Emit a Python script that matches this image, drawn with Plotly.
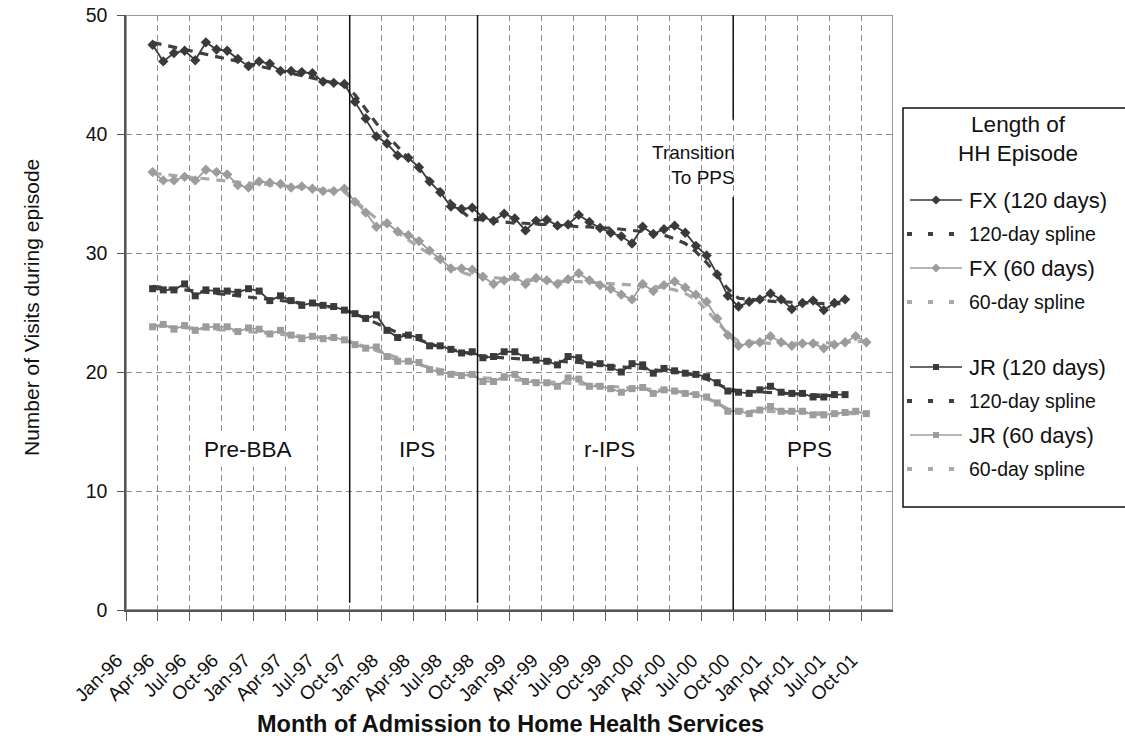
import plotly.graph_objects as go

W, H = 1125, 744

# ---------------- data ----------------
years = ["96", "97", "98", "99", "00", "01"]
mnames = ["Jan", "Feb", "Mar", "Apr", "May", "Jun", "Jul", "Aug", "Sep", "Oct", "Nov", "Dec"]
months = [f"{m}-{y}" for y in years for m in mnames]  # 72 monthly categories

tick_labels = ["Jan-96", "Apr-96", "Jul-96", "Oct-96", "Jan-97", "Apr-97", "Jul-97", "Oct-97",
               "Jan-98", "Apr-98", "Jul-98", "Oct-98", "Jan-99", "Apr-99", "Jul-99", "Oct-99",
               "Jan-00", "Apr-00", "Jul-00", "Oct-00", "Jan-01", "Apr-01", "Jul-01", "Oct-01"]

start_month = "Mar-96"

fx120 = [47.5, 46.1, 46.8, 47.0, 46.2, 47.7, 47.1, 47.0, 46.3, 45.7, 46.1, 45.9, 45.3, 45.3, 45.2, 45.1, 44.4, 44.3, 44.2,
         42.7, 41.3, 39.8, 39.2, 38.2, 38.0, 37.2, 36.0, 35.1, 33.9, 33.7, 33.8,
         33.0, 32.7, 33.3, 32.9, 31.9, 32.7, 32.8, 32.3, 32.4, 33.2, 32.6, 32.1, 31.7, 31.4, 30.8, 32.2, 31.6, 32.0, 32.3, 31.7, 30.6, 29.8, 28.2, 26.4,
         25.5, 25.9, 26.1, 26.6, 26.1, 25.3, 25.8, 26.0, 25.2, 25.8, 26.1]
fx120_spline = [47.7, 47.5, 47.3, 47.1, 46.9, 46.7, 46.5, 46.3, 46.1, 45.9, 45.7, 45.5, 45.3, 45.1, 44.9, 44.7, 44.5, 44.3, 44.1,
                43.3, 42.1, 40.9, 39.9, 38.9, 37.9, 37.0, 36.1, 35.2, 34.3, 33.5, 32.8,
                32.8, 32.7, 32.6, 32.5, 32.5, 32.4, 32.4, 32.3, 32.3, 32.2, 32.2, 32.1, 32.1, 32.0, 31.9, 31.8, 31.7, 31.5, 31.2, 30.8, 30.1, 29.2, 28.1, 27.0,
                26.2, 26.1, 26.0, 25.95, 25.9, 25.85, 25.8, 25.8, 25.75, 25.75, 25.75]

fx60 = [36.8, 36.1, 36.1, 36.4, 36.1, 37.0, 36.8, 36.6, 35.7, 35.5, 36.0, 35.9, 35.8, 35.5, 35.6, 35.4, 35.2, 35.2, 35.4,
        34.3, 33.4, 32.2, 32.5, 31.8, 31.5, 31.0, 30.2, 29.5, 28.7, 28.7, 28.6,
        28.0, 27.4, 27.7, 28.0, 27.4, 27.9, 27.7, 27.4, 27.8, 28.3, 27.7, 27.3, 27.0, 26.5, 26.1, 27.4, 26.8, 27.3, 27.6, 27.1, 26.5, 25.9, 24.5, 23.1,
        22.2, 22.4, 22.5, 23.0, 22.5, 22.2, 22.4, 22.4, 22.0, 22.3, 22.5, 23.0, 22.5]
fx60_spline = [36.7, 36.6, 36.5, 36.4, 36.3, 36.2, 36.1, 36.0, 35.95, 35.9, 35.8, 35.7, 35.65, 35.6, 35.5, 35.4, 35.3, 35.2, 35.1,
               34.4, 33.6, 32.9, 32.3, 31.7, 31.1, 30.5, 29.9, 29.3, 28.8, 28.4, 28.1,
               28.0, 27.9, 27.85, 27.8, 27.75, 27.7, 27.7, 27.65, 27.6, 27.6, 27.55, 27.5, 27.45, 27.4, 27.35, 27.3, 27.2, 27.1, 26.9, 26.6, 26.1, 25.2, 24.2, 23.2,
               22.6, 22.5, 22.45, 22.4, 22.4, 22.4, 22.4, 22.4, 22.4, 22.45, 22.5, 22.55, 22.6]

jr120 = [27.0, 26.9, 26.9, 27.4, 26.4, 26.9, 26.8, 26.8, 26.7, 27.0, 26.8, 26.0, 26.4, 26.0, 25.6, 25.8, 25.6, 25.5, 25.2,
         24.9, 24.5, 24.8, 23.5, 22.9, 23.1, 22.9, 22.2, 22.2, 21.9, 21.6, 21.7,
         21.2, 21.3, 21.7, 21.7, 21.2, 21.0, 20.9, 20.6, 21.3, 21.2, 20.6, 20.7, 20.4, 20.0, 20.7, 20.6, 19.9, 20.3, 20.1, 19.9, 19.8, 19.6, 19.1, 18.4,
         18.3, 18.2, 18.5, 18.8, 18.3, 18.2, 18.2, 17.9, 17.9, 18.1, 18.1]
jr120_spline = [27.2, 27.1, 27.0, 26.9, 26.8, 26.7, 26.6, 26.5, 26.4, 26.3, 26.2, 26.1, 26.0, 25.9, 25.8, 25.7, 25.6, 25.4, 25.2,
                24.9, 24.5, 24.1, 23.7, 23.3, 23.0, 22.7, 22.4, 22.1, 21.9, 21.7, 21.5,
                21.3, 21.25, 21.2, 21.15, 21.1, 21.0, 20.95, 20.9, 20.85, 20.8, 20.7, 20.6, 20.5, 20.4, 20.35, 20.3, 20.2, 20.1, 20.0, 19.9, 19.7, 19.4, 19.0, 18.6,
                18.4, 18.35, 18.3, 18.3, 18.25, 18.2, 18.15, 18.1, 18.05, 18.0, 18.0]

jr60 = [23.8, 24.0, 23.6, 23.9, 23.5, 23.8, 23.8, 23.8, 23.4, 23.7, 23.6, 23.2, 23.5, 23.1, 22.8, 23.0, 22.8, 22.9, 22.7,
        22.3, 22.0, 22.1, 21.3, 20.9, 20.9, 20.8, 20.2, 20.0, 19.8, 19.7, 19.8,
        19.2, 19.2, 19.6, 19.8, 19.2, 19.1, 19.1, 18.8, 19.5, 19.4, 18.8, 18.8, 18.6, 18.3, 18.6, 18.7, 18.2, 18.5, 18.4, 18.2, 18.1, 17.9, 17.4, 16.7,
        16.7, 16.5, 16.8, 17.1, 16.7, 16.7, 16.7, 16.4, 16.4, 16.5, 16.6, 16.7, 16.5]
jr60_spline = [23.9, 23.85, 23.8, 23.75, 23.7, 23.65, 23.6, 23.5, 23.45, 23.4, 23.3, 23.2, 23.15, 23.1, 23.0, 22.95, 22.9, 22.8, 22.7,
               22.4, 22.1, 21.8, 21.5, 21.2, 20.9, 20.6, 20.4, 20.2, 20.0, 19.8, 19.7,
               19.5, 19.45, 19.4, 19.35, 19.3, 19.25, 19.2, 19.15, 19.1, 19.05, 19.0, 18.9, 18.8, 18.7, 18.65, 18.6, 18.55, 18.5, 18.4, 18.3, 18.1, 17.8, 17.4, 16.9,
               16.8, 16.75, 16.7, 16.7, 16.65, 16.6, 16.6, 16.55, 16.55, 16.5, 16.5, 16.5, 16.5]

period_names = ["Pre-BBA", "IPS", "r-IPS", "PPS"]
period_starts = ["Oct-97", "Oct-98", "Oct-00"]

legend_labels = ["FX (120 days)", "120-day spline", "FX (60 days)", "60-day spline",
                 "JR (120 days)", "120-day spline", "JR (60 days)", "60-day spline"]

# ---------------- styling ----------------
FONT = "Liberation Sans, Arial, sans-serif"
DARK = "#3a3a3a"
LIGHT = "#9c9c9c"
DARK_SPL = "#404040"
LIGHT_SPL = "#a9a9a9"
GRID = "#8c8c8c"

i0 = months.index(start_month)


def xs(vals):
    return list(range(i0, i0 + len(vals)))


fig = go.Figure()

series = [
    (fx120_spline, DARK_SPL, None, True),
    (fx60_spline, LIGHT_SPL, None, True),
    (jr120_spline, DARK_SPL, None, True),
    (jr60_spline, LIGHT_SPL, None, True),
    (fx60, LIGHT, "diamond", False),
    (jr60, LIGHT, "square", False),
    (fx120, DARK, "diamond", False),
    (jr120, DARK, "square", False),
]
for vals, col, sym, is_spline in series:
    if is_spline:
        fig.add_trace(go.Scatter(x=xs(vals), y=vals, mode="lines",
                                 line=dict(color=col, width=3.2, dash="9px,7px"),
                                 showlegend=False, hoverinfo="skip"))
    else:
        fig.add_trace(go.Scatter(x=xs(vals), y=vals, mode="lines+markers",
                                 line=dict(color=col, width=1.8),
                                 marker=dict(symbol=sym, size=8 if sym == "diamond" else 7, color=col),
                                 showlegend=False))

# legend (drawn on an invisible pixel-coordinate overlay axis)
leg_y = [200, 234, 268, 302, 367, 401, 435, 469]
leg_style = [(DARK, "diamond", False), (DARK_SPL, None, True), (LIGHT, "diamond", False), (LIGHT_SPL, None, True),
             (DARK, "square", False), (DARK_SPL, None, True), (LIGHT, "square", False), (LIGHT_SPL, None, True)]

shapes = []
annotations = []

for lab, y, (col, sym, spl) in zip(legend_labels, leg_y, leg_style):
    if spl:
        shapes.append(dict(type="line", xref="x2", yref="y2", x0=907, x1=956, y0=y, y1=y,
                           line=dict(color=col, width=4, dash="5px,16px")))
        fsize = 19.5
    else:
        shapes.append(dict(type="line", xref="x2", yref="y2", x0=910, x1=962, y0=y, y1=y,
                           line=dict(color=col, width=1.5)))
        fig.add_trace(go.Scatter(x=[936], y=[y], xaxis="x2", yaxis="y2", mode="markers",
                                 marker=dict(symbol=sym, size=7 if sym == "diamond" else 6, color=col),
                                 showlegend=False, hoverinfo="skip"))
        fsize = 22
    annotations.append(dict(xref="x2", yref="y2", x=967, y=y, text=lab, showarrow=False,
                            xanchor="left", yanchor="middle", font=dict(size=fsize, color="#111", family=FONT)))

annotations.append(dict(xref="x2", yref="y2", x=1018, y=139, text="Length of<br>HH Episode", showarrow=False,
                        xanchor="center", yanchor="middle", align="center",
                        font=dict(size=22.5, color="#111", family=FONT)))
shapes.append(dict(type="rect", xref="x2", yref="y2", x0=903, x1=1140, y0=108, y1=507,
                   line=dict(color="#111", width=1.5), fillcolor="rgba(0,0,0,0)"))

# plot-area border (top/right, light gray)
shapes.append(dict(type="rect", xref="x", yref="y", x0=-0.5, x1=71.5, y0=0, y1=50,
                   line=dict(color="#9a9a9a", width=2), layer="below"))

# period boundary lines
for k, m in enumerate(period_starts):
    xb = months.index(m) - 0.5
    if k < 2:
        shapes.append(dict(type="line", xref="x", yref="y", x0=xb, x1=xb, y0=0.6, y1=50,
                           line=dict(color="#111", width=1.5)))
    else:
        shapes.append(dict(type="line", xref="x", yref="y", x0=xb, x1=xb, y0=0, y1=34.7,
                           line=dict(color="#111", width=1.5)))
        shapes.append(dict(type="line", xref="x", yref="y", x0=xb, x1=xb, y0=41.2, y1=50,
                           line=dict(color="#111", width=1.5)))

for name, xc in zip(period_names, [10.95, 26.85, 44.9, 63.7]):
    annotations.append(dict(xref="x", yref="y", x=xc, y=13.5, text=name, showarrow=False,
                            bgcolor="white", borderpad=4,
                            font=dict(size=22.5, color="#111", family=FONT)))

annotations.append(dict(xref="x2", yref="y2", x=737, y=165, text="Transition<br>To PPS", showarrow=False,
                        xanchor="right", yanchor="middle", align="right",
                        font=dict(size=19, color="#111", family=FONT)))

# axis titles
annotations.append(dict(xref="x2", yref="y2", x=31, y=308, text="Number of Visits during episode",
                        showarrow=False, textangle=-90, font=dict(size=21, color="#111", family=FONT)))
annotations.append(dict(xref="x2", yref="y2", x=510, y=724, text="<b>Month of Admission to Home Health Services</b>",
                        showarrow=False, font=dict(size=23.5, color="#111", family=FONT)))

tickvals = [months.index(t) - 0.5 for t in tick_labels]

fig.update_layout(
    template="none",
    width=W, height=H,
    margin=dict(l=0, r=0, t=0, b=0),
    paper_bgcolor="white",
    plot_bgcolor="rgba(0,0,0,0)",
    font=dict(family=FONT, color="#111"),
    showlegend=False,
    xaxis=dict(domain=[126 / W, 893 / W], range=[-0.5, 71.5], tickvals=tickvals, ticktext=tick_labels,
               tickangle=-45, ticks="outside", ticklen=9, tickwidth=1, tickcolor="#555",
               showline=True, linecolor="#555", linewidth=1.5, showgrid=True, gridcolor=GRID,
               gridwidth=1, griddash="6px,4px", zeroline=False, automargin=False,
               ticklabelstandoff=21, ticklabelshift=-9,
               tickfont=dict(size=19, color="#111", family=FONT), anchor="y"),
    yaxis=dict(domain=[(H - 610) / H, (H - 15) / H], range=[0, 50], tickvals=[0, 10, 20, 30, 40, 50],
               ticks="outside", ticklen=7, tickwidth=1, tickcolor="#555",
               showline=True, linecolor="#555", linewidth=1.5, showgrid=True, gridcolor=GRID,
               gridwidth=1, griddash="6px,4px", zeroline=False, automargin=False,
               tickfont=dict(size=19.5, color="#111", family=FONT), ticklabelstandoff=6, anchor="x"),
    xaxis2=dict(domain=[0, 1], range=[0, W], visible=False, fixedrange=True, anchor="y2"),
    yaxis2=dict(domain=[0, 1], range=[H, 0], visible=False, fixedrange=True, anchor="x2"),
    shapes=shapes,
    annotations=annotations,
)

fig.write_html("out.html", config={"displayModeBar": False},
               post_script="document.body.style.margin='0';document.body.style.overflow='hidden';")
